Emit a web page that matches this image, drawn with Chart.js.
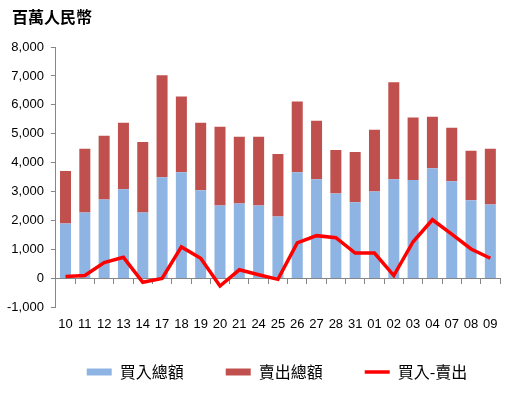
<!DOCTYPE html>
<html><head><meta charset="utf-8">
<script src="https://cdn.jsdelivr.net/npm/chart.js@4/dist/chart.umd.min.js"></script>
<style>html,body{margin:0;padding:0;background:#fff}#w{position:relative;width:516px;height:396px}
#t{position:absolute;left:12px;top:5px;font:bold 16px/23px 'Noto Sans CJK TC',sans-serif;color:#000}</style>
</head><body><div id="w"><canvas id="c"></canvas><div id="t"></div></div>
<script>
const categories = ["10","11","12","13","14","17","18","19","20","21","24","25","26","27","28","31","01","02","03","04","07","08","09"];
const buyTotal = [1900,2280,2730,3080,2280,3500,3670,3050,2520,2590,2520,2140,3670,3430,2940,2630,3010,3430,3400,3810,3360,2700,2560];
const sellTotal = [1810,2200,2200,2300,2440,3520,2620,2330,2720,2310,2380,2160,2450,2020,1500,1740,2130,3350,2160,1780,1850,1710,1920];
const netBuy = [70,100,550,730,-130,0,1090,700,-260,300,130,-30,1230,1480,1410,880,880,100,1270,2030,1530,1020,700];
const seriesNames = ["買入總額","賣出總額","買入-賣出"];
const titleText = "百萬人民幣";
document.getElementById('t').textContent = titleText;

const tickFont = {family:"'Liberation Sans', Arial, sans-serif", size:13};
const cjkFont = {family:"'Noto Sans CJK TC', sans-serif", size:16};
const axisGray = "#868686";

const legendShift = {
  id:'legendShift',
  afterLayout(chart){
    const lg = chart.legend;
    if (!lg) return;
    lg.top -= 11; lg.bottom -= 11;
    lg.left += 27; lg.right += 27;
  }
};

new Chart(document.getElementById('c'), {
  type:'bar',
  data:{
    labels:categories,
    datasets:[
      {label:seriesNames[0], data:buyTotal, backgroundColor:'#8EB4E3', stack:'s', order:1, barPercentage:0.57, categoryPercentage:1, pointStyle:'rect'},
      {label:seriesNames[1], data:sellTotal, backgroundColor:'#C0504D', stack:'s', order:1, barPercentage:0.57, categoryPercentage:1, pointStyle:'rect'},
      {label:seriesNames[2], data:netBuy, type:'line', borderColor:'#FF0000', backgroundColor:'#FF0000', borderWidth:3.5, pointRadius:0, tension:0, stack:'n', order:0, pointStyle:'line'}
    ]
  },
  plugins:[legendShift],
  options:{
    responsive:true, maintainAspectRatio:false, animation:false, locale:'en-US',
    layout:{padding:{left:0,right:16,top:47,bottom:-5}},
    plugins:{
      tooltip:{enabled:false},
      title:{display:false},
      legend:{position:'bottom', labels:{usePointStyle:true, pointStyleWidth:25, boxWidth:25, boxHeight:7, padding:42, color:'#000', font:cjkFont, sort:(a,b)=>a.datasetIndex-b.datasetIndex}}
    },
    scales:{
      x:{type:'category', grid:{display:false}, border:{display:false}, ticks:{autoSkip:false, maxRotation:0, minRotation:0, color:'#000', font:tickFont, padding:1}},
      x2:{type:'category', labels:categories, position:{y:0}, offset:true, grid:{offset:true, drawOnChartArea:false, drawTicks:true, tickLength:5, color:axisGray}, border:{display:true, color:axisGray, width:1}, ticks:{display:false}},
      y:{stacked:true, min:-1000, max:8000, ticks:{stepSize:1000, color:'#000', font:tickFont, padding:7}, grid:{drawOnChartArea:false, drawTicks:true, tickLength:5, color:axisGray}, border:{color:axisGray, width:1}}
    }
  }
});
</script></body></html>
